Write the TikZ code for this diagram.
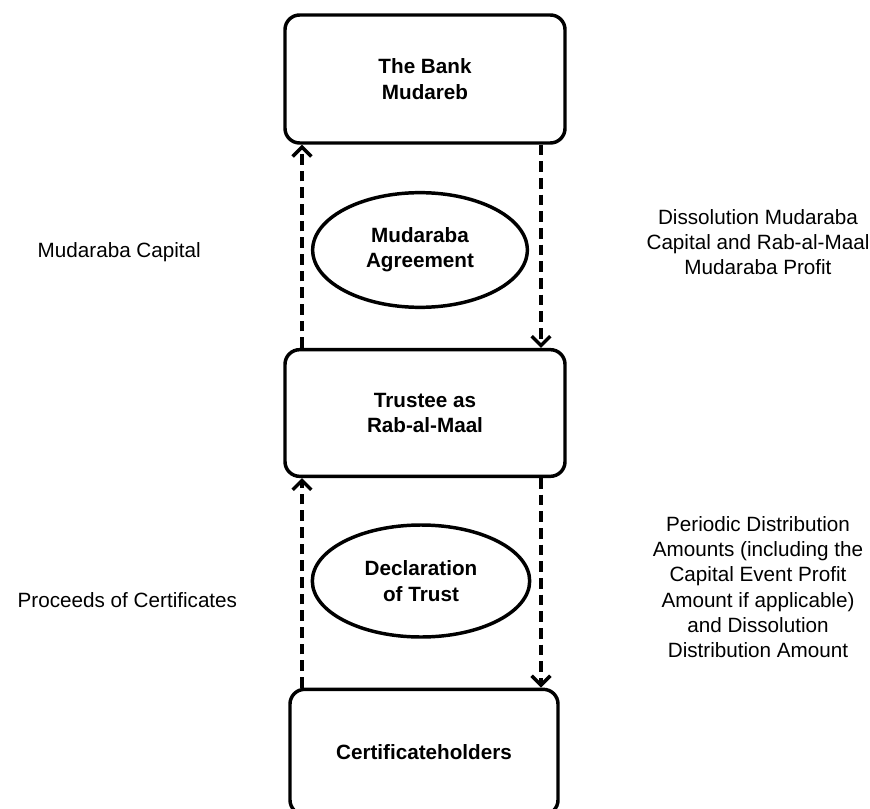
\documentclass[tikz,border=0pt]{standalone}
\usepackage{fontspec}
\setmainfont{Liberation Sans}
\usetikzlibrary{shapes.geometric,arrows.meta}

\begin{document}
\begin{tikzpicture}[x=0.75pt,y=-0.75pt,
		party/.style={draw,line width=2.6pt,rounded corners=11pt,font=\fontsize{15.5}{19}\selectfont\bfseries,align=center},
		contract/.style={draw,ellipse,line width=2.6pt,inner sep=0pt,font=\fontsize{15.5}{19}\selectfont\bfseries,align=center},
		flow/.style={line width=2.6pt,dash pattern=on 8pt off 4.5pt,-{Straight Barb[length=7pt,width=14pt]}},
		txt/.style={font=\fontsize{15.5}{19}\selectfont,align=center}]
			\clip (0,0) rectangle (870,809);
			\node[party,minimum width=210pt,minimum height=96pt] (bank) at (425,79) {The Bank\\Mudareb};
			\node[party,minimum width=210pt,minimum height=95pt] (trustee) at (425,413) {Trustee as\\Rab-al-Maal};
			\node[party,minimum width=201pt,minimum height=94pt] (holders) at (424,752) {Certificateholders};
			\node[contract,minimum width=161pt,minimum height=86pt] (agreement) at (420,250) {Mudaraba\\Agreement};
			\node[contract,minimum width=163pt,minimum height=84pt] (trust) at (421,581) {Declaration\\of Trust};
			\coordinate (lx) at (302,0);
			\coordinate (rx) at (541,0);
			\draw[flow] (trustee.north -| lx)--(bank.south -| lx);
			\draw[flow] (bank.south -| rx)--(trustee.north -| rx);
			\draw[flow] (holders.north -| lx)--(trustee.south -| lx);
			\draw[flow] (trustee.south -| rx)--(holders.north -| rx);
			\node[txt,anchor=west] (capital) at (33,252) {Mudaraba Capital};
			\node[txt,anchor=west] (proceeds) at (13,600) {Proceeds of Certificates};
			\node[txt] (dissolution) at (758,242) {Dissolution Mudaraba\\Capital and Rab-al-Maal\\Mudaraba Profit};
			\node[txt] (periodic) at (758,587) {Periodic Distribution\\Amounts (including the\\Capital Event Profit\\Amount if applicable)\\and Dissolution\\Distribution Amount};
		\end{tikzpicture}
\end{document}
